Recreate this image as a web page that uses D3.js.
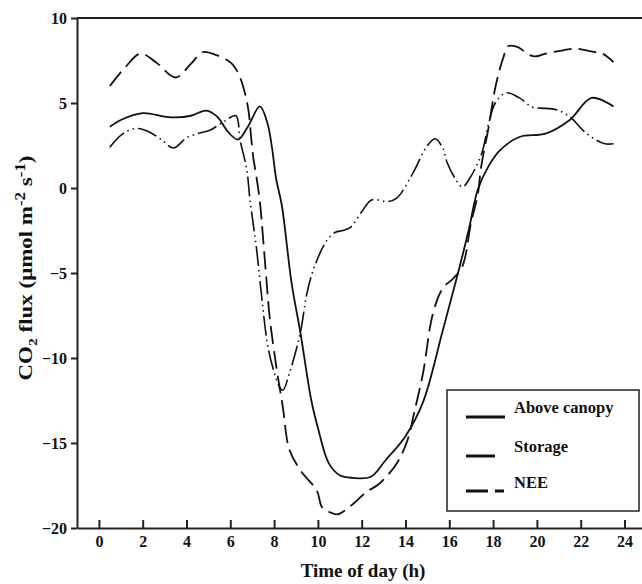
<!DOCTYPE html>
<html><head><meta charset="utf-8">
<script src="https://cdn.jsdelivr.net/npm/d3@7"></script>
<style>body{margin:0;background:#fff}svg{display:block}text{font-family:"Liberation Serif","Times New Roman",serif;font-weight:bold;fill:#111}</style>
</head><body><svg id="c" width="642" height="584"></svg>
<script>
const xTicks = [0,2,4,6,8,10,12,14,16,18,20,22,24];
const yTicks = [-20,-15,-10,-5,0,5,10];

const aboveHours = [0.5,1.0,2.0,3.0,3.5,4.2,4.9,5.4,5.9,6.35,6.8,7.35,7.7,7.9,8.1,8.35,8.8,9.2,9.7,10.0,10.5,11.0,11.6,12.4,13.1,14.0,14.8,15.7,16.4,16.9,17.3,17.8,18.3,19.2,20.4,21.5,22.5,23.5];
const aboveVals  = [3.6,4.0,4.4,4.2,4.15,4.25,4.55,4.2,3.3,2.85,3.6,4.8,3.8,2.4,0.5,-1.0,-5.6,-8.5,-12.5,-14.1,-16.2,-16.9,-17.05,-17.0,-16.0,-14.6,-12.6,-8.4,-5.0,-2.4,-0.1,1.3,2.2,3.0,3.2,4.0,5.3,4.8];

const storageHours = [0.5,1.1,1.7,2.3,2.9,3.4,4.0,4.5,5.07,5.7,6.25,6.45,6.75,6.9,7.2,7.45,7.7,7.95,8.25,8.4,8.7,9.2,9.5,9.85,10.4,10.8,11.15,11.5,12.0,12.45,13.2,13.6,14.35,14.95,15.35,15.7,15.9,16.25,16.6,16.95,17.2,17.5,17.8,18.1,18.6,19.2,19.8,20.2,20.9,21.5,22.1,22.6,23.1,23.5];
const storageVals  = [2.4,3.2,3.5,3.3,2.8,2.35,2.95,3.2,3.4,3.9,4.25,2.8,1.1,-0.7,-3.6,-6.6,-9.2,-10.6,-11.7,-11.9,-10.9,-8.5,-6.2,-4.6,-3.1,-2.6,-2.5,-2.3,-1.4,-0.7,-0.8,-0.6,0.9,2.4,2.9,2.35,1.5,0.6,0.06,0.6,1.2,2.1,3.8,5.0,5.6,5.3,4.75,4.7,4.6,4.2,3.4,2.9,2.6,2.6];

const neeHours = [0.5,1.2,1.9,2.6,3.5,4.2,4.75,5.4,6.0,6.2,6.45,6.8,6.95,7.05,7.2,7.35,7.6,7.8,8.1,8.4,8.7,9.2,9.95,10.2,10.6,10.9,11.5,12.2,12.8,13.6,14.1,14.4,14.8,15.25,15.7,16.2,16.6,17.0,17.3,17.45,17.8,18.1,18.45,18.7,19.1,19.7,20.0,20.4,21.2,21.8,22.4,23.0,23.5];
const neeVals  = [6.0,7.1,7.9,7.4,6.5,7.3,8.0,7.8,7.4,7.1,6.5,4.8,3.0,1.8,0.6,-0.8,-4.6,-7.6,-10.5,-12.9,-15.4,-16.6,-17.8,-18.8,-19.1,-19.2,-18.7,-17.9,-17.4,-16.2,-14.8,-13.2,-10.9,-7.4,-5.9,-5.3,-4.6,-2.0,-0.4,1.2,3.6,5.9,7.6,8.35,8.3,7.8,7.75,7.9,8.1,8.2,8.05,7.9,7.4];

const seriesNames = ["Above canopy","Storage","NEE"];

const svg = d3.select("#c");
const x = d3.scaleLinear().domain([-1.0, 24.8]).range([77, 642]);
const y = d3.scaleLinear().domain([-20, 10]).range([528, 18]);

// frame top line
svg.append("line").attr("x1",x(-1)).attr("x2",642).attr("y1",y(10)).attr("y2",y(10))
  .attr("stroke","#222").attr("stroke-width",2);

const gx = svg.append("g").attr("transform",`translate(0,${y(-20)})`)
  .call(d3.axisBottom(x).tickValues(xTicks).tickSizeInner(-8).tickSizeOuter(0).tickPadding(8).tickFormat(d3.format("d")));
gx.select(".domain").attr("stroke","#222").attr("stroke-width",2);
gx.selectAll(".tick line").attr("stroke","#222").attr("stroke-width",2);
gx.selectAll("text").attr("font-size",16).attr("font-family",null).attr("fill","#111");

const gy = svg.append("g").attr("transform",`translate(${x(-1)},0)`)
  .call(d3.axisLeft(y).tickValues(yTicks).tickSizeInner(6).tickSizeOuter(0).tickPadding(4).tickFormat(d3.format("d")));
gy.select(".domain").attr("stroke","#222").attr("stroke-width",2);
gy.selectAll(".tick line").attr("stroke","#222").attr("stroke-width",2);
gy.selectAll("text").attr("font-size",16).attr("font-family",null).attr("fill","#111");

const line = d3.line().x(d=>x(d[0])).y(d=>y(d[1])).curve(d3.curveCatmullRom.alpha(0.5));
const mk = (hs,vs)=>hs.map((h,i)=>[h,vs[i]]);

svg.append("path").attr("d",line(mk(aboveHours,aboveVals))).attr("fill","none")
  .attr("stroke","#111").attr("stroke-width",1.8);
svg.append("path").attr("d",line(mk(storageHours,storageVals))).attr("fill","none")
  .attr("stroke","#111").attr("stroke-width",1.6).attr("stroke-dasharray","20,4,1.5,4,1.5,4");
svg.append("path").attr("d",line(mk(neeHours,neeVals))).attr("fill","none")
  .attr("stroke","#111").attr("stroke-width",1.8).attr("stroke-dasharray","18,7");

// axis titles
svg.append("text").attr("x",363).attr("y",577).attr("text-anchor","middle").attr("font-size",19).text("Time of day (h)");
const yt = svg.append("text").attr("transform","translate(32,268) rotate(-90)").attr("text-anchor","middle")
  .attr("font-size",19).attr("textLength",225).attr("lengthAdjust","spacingAndGlyphs");
yt.append("tspan").text("CO");
yt.append("tspan").attr("font-size",13).attr("dy",5).text("2");
yt.append("tspan").attr("dy",-5).text(" flux (\u03bcmol m");
yt.append("tspan").attr("font-size",14).attr("dy",-7).text("-2");
yt.append("tspan").attr("dy",7).text(" s");
yt.append("tspan").attr("font-size",14).attr("dy",-7).text("-1");
yt.append("tspan").attr("dy",7).text(")");

// legend
const lg = svg.append("g");
lg.append("rect").attr("x",447).attr("y",390).attr("width",192).attr("height",121)
  .attr("fill","#fff").attr("stroke","#222").attr("stroke-width",1.5);
const legendRows = [
  {name:seriesNames[0], x2:505, ly:417, ty:413, dash:null},
  {name:seriesNames[1], x2:495, ly:456, ty:452, dash:null},
  {name:seriesNames[2], x2:504, ly:491, ty:488, dash:"22,7,9,20"}
];
legendRows.forEach(r=>{
  const l = lg.append("line").attr("x1",466).attr("x2",r.x2).attr("y1",r.ly).attr("y2",r.ly)
    .attr("stroke","#111").attr("stroke-width",3);
  if(r.dash) l.attr("stroke-dasharray",r.dash);
  lg.append("text").attr("x",514).attr("y",r.ty).attr("font-size",16.5).text(r.name);
});
</script></body></html>
